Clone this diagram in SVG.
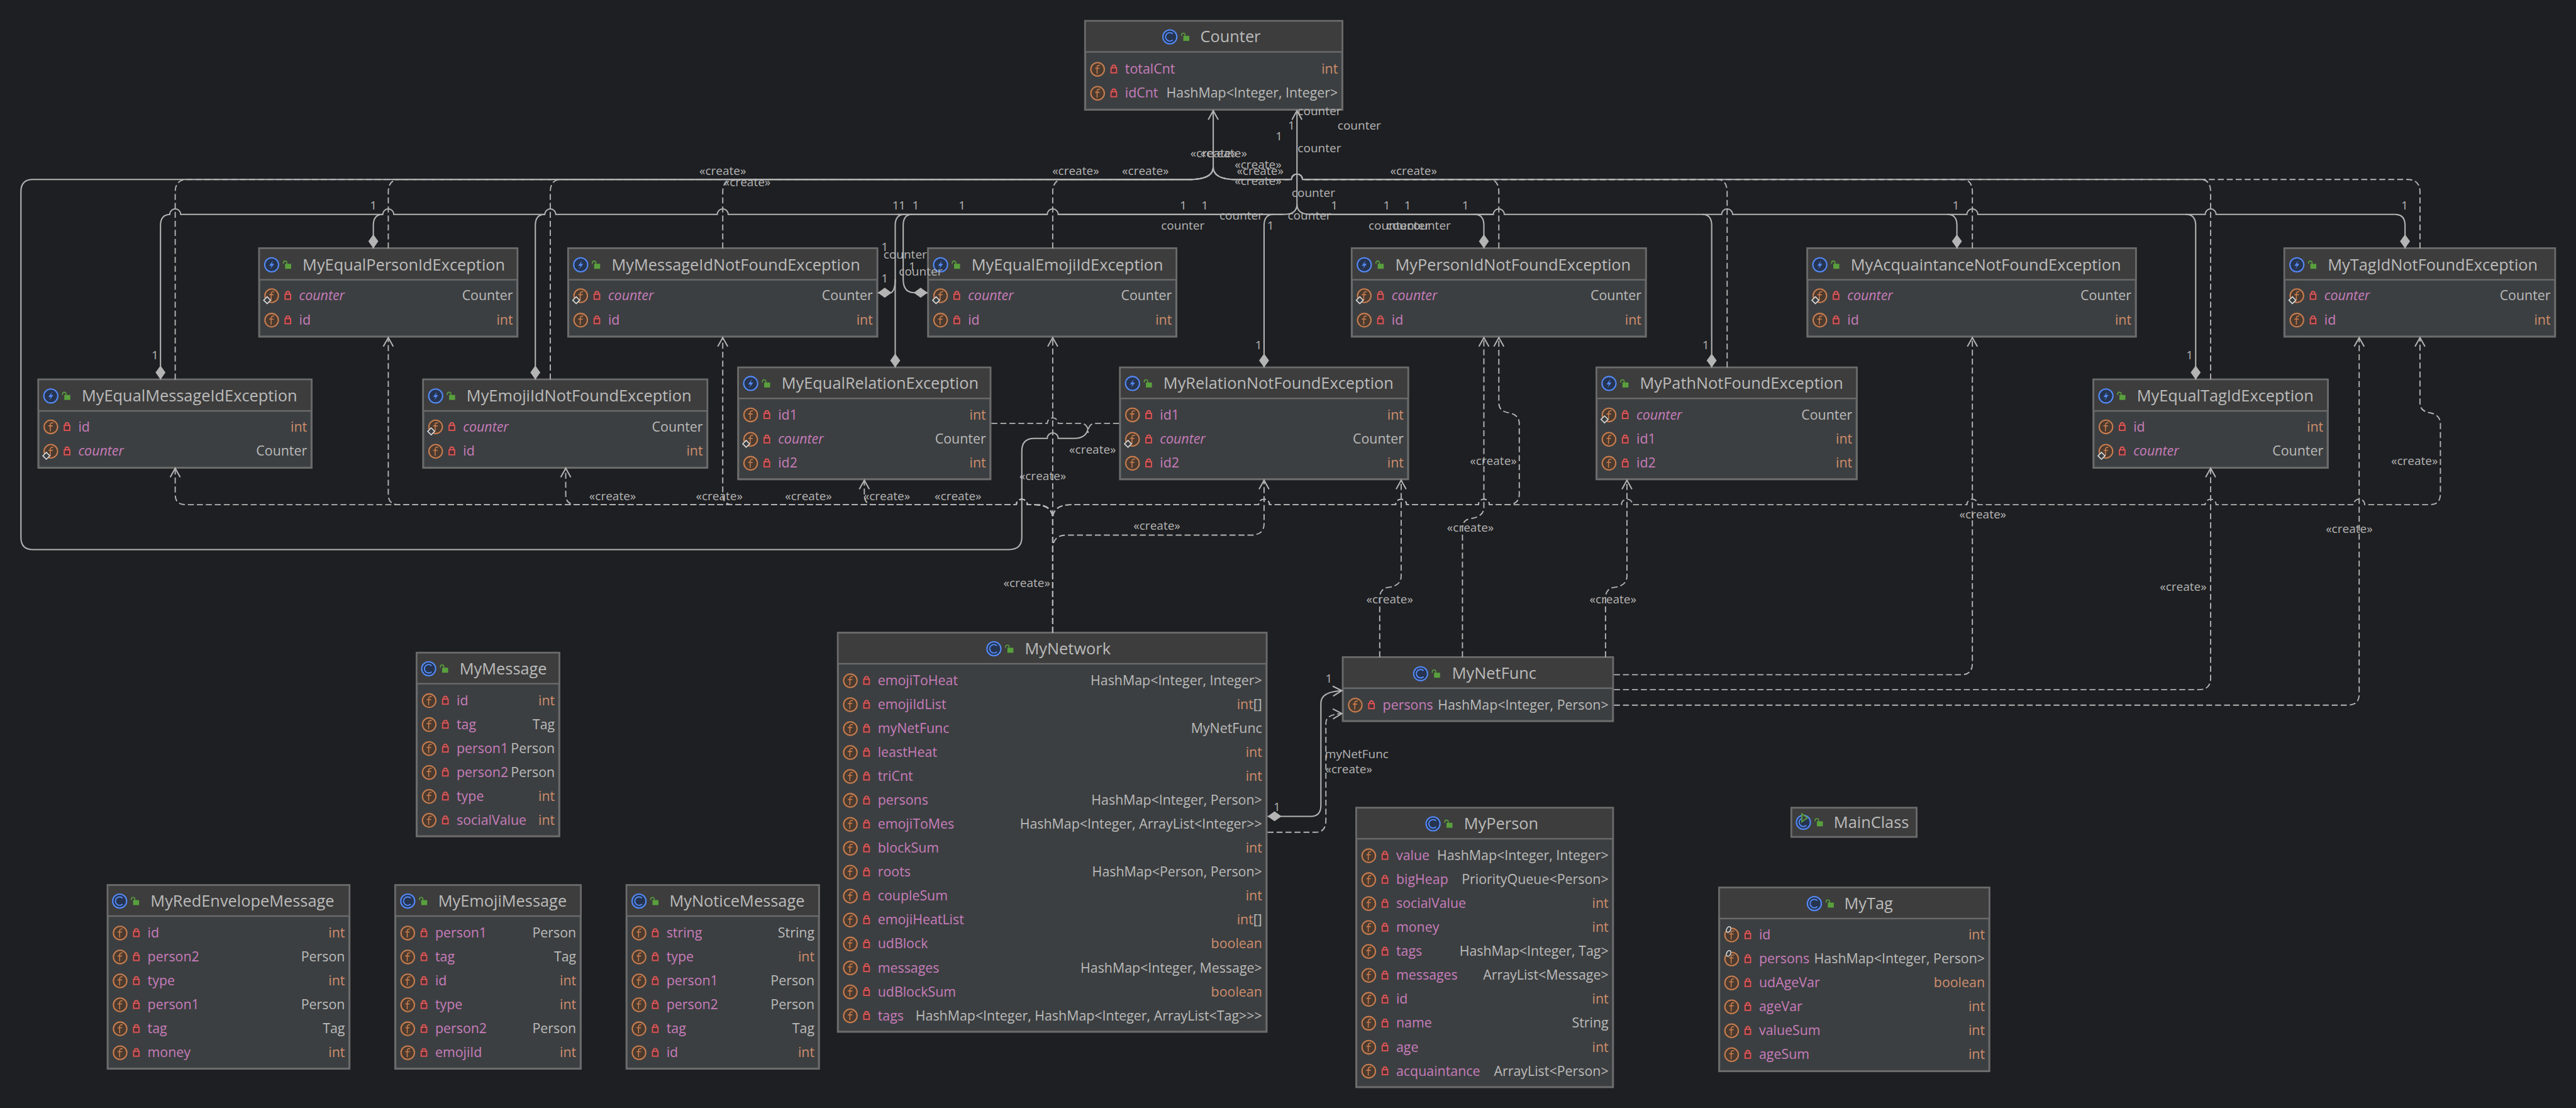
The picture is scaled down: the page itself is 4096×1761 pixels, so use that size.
<svg xmlns="http://www.w3.org/2000/svg" width="4096" height="1761" viewBox="0 0 4096 1761">
<style>
.b{fill:#3C3F41;stroke:#6B6B6B;stroke-width:4}
.h{fill:#3D3D3D;stroke:#6B6B6B;stroke-width:3}
text{font-family:"Open Sans","Noto Sans","Liberation Sans",sans-serif}
.t{font-size:32px;fill:#BBBBBB}
.n{font-size:27px;fill:#C77DBB}
.i{font-style:italic}
.y{font-size:27px;fill:#BBBBBB;text-anchor:end}
.p{font-size:27px;fill:#CF8E6D;text-anchor:end}
.l{font-size:24px;fill:#B4B4B4;text-anchor:middle}
.c{fill:none;stroke:#B4B4B4;stroke-width:2.6}
.d{fill:none;stroke:#B4B4B4;stroke-width:2.4;stroke-dasharray:12 6}
.a{marker-end:url(#arrow)}
.m{marker-start:url(#diamond)}
</style>
<defs>
<marker id="arrow" markerUnits="userSpaceOnUse" markerWidth="30" markerHeight="30" refX="0" refY="0" orient="auto" overflow="visible"><path d="M-18,-10 L0,0 L-18,10" fill="none" stroke="#B4B4B4" stroke-width="2.6"/></marker>
<marker id="diamond" markerUnits="userSpaceOnUse" markerWidth="30" markerHeight="30" refX="0" refY="0" orient="auto" overflow="visible"><path d="M0,0 L14,-10 L28,0 L14,10 Z" fill="#B4B4B4"/></marker>
<g id="gl"><rect x="27" y="-2" width="12" height="10" fill="#59A03D"/><path d="M23.5,-2 V-4 a3.5,3.5 0 0 1 7,0 V-1" fill="none" stroke="#59A03D" stroke-width="2"/></g>
<g id="ci"><circle r="14" fill="#26344F" stroke="#548AF7" stroke-width="2.6"/><path d="M6,-6 A8.5,8.5 0 1 0 6,6" fill="none" stroke="#548AF7" stroke-width="2.4"/><use href="#gl"/></g>
<g id="xi"><circle r="14" fill="#26344F" stroke="#548AF7" stroke-width="2.6"/><path d="M3,-9 L-5,2 H0 L-3,9 L5,-2 H0 Z" fill="#548AF7"/><use href="#gl"/></g>
<g id="mi"><use href="#ci"/><path d="M-3,-17 L8,-9 L-3,-1 Z" fill="#3D3D3D" stroke="#59A03D" stroke-width="2.4"/></g>
<g id="r"><circle cx="25" r="13.5" fill="#4A3A2F" stroke="#C77D4F" stroke-width="2.6"/><path d="M30,-8 Q24,-9 24,-4 V9 M20,-2 H29" fill="none" stroke="#C77D4F" stroke-width="2"/><rect x="52" y="-3" width="11" height="10" fill="#4A2F33" stroke="#E05555" stroke-width="2.4"/><path d="M54,-3 V-5 a3.5,3.5 0 0 1 7,0 V-3" fill="none" stroke="#E05555" stroke-width="2.4"/></g>
<g id="s"><use href="#r"/><path d="M16,2 L23,9 L16,16 L9,9 Z" fill="#3C3F41" stroke="#DDDDDD" stroke-width="2"/></g>
<g id="z"><use href="#r"/><ellipse cx="19" cy="-11" rx="4" ry="6" transform="rotate(25 19 -11)" fill="#3C3F41" stroke="#DDDDDD" stroke-width="2"/></g>
</defs>
<rect width="4096" height="1761" fill="#1E1F22"/>
<g transform="scale(0.79257)">
<g id="Counter" transform="translate(2177,42)"><rect class="b" width="516" height="178"/><rect class="h" width="516" height="62"/><use href="#ci" x="170" y="32"/><text class="t" x="231" y="43">Counter</text>
<use href="#r" y="97"/><text class="n" x="80" y="106">totalCnt</text><text class="p" x="507" y="106">int</text>
<use href="#r" y="145"/><text class="n" x="80" y="154">idCnt</text><text class="y" x="507" y="154">HashMap&lt;Integer, Integer&gt;</text></g>

<g id="MyEqualPersonIdException" transform="translate(520,498)"><rect class="b" width="518" height="177"/><rect class="h" width="518" height="63"/><use href="#xi" x="25" y="33"/><text class="t" x="87" y="44">MyEqualPersonIdException</text>
<use href="#s" y="95"/><text class="n i" x="80" y="104">counter</text><text class="y" x="509" y="104">Counter</text>
<use href="#r" y="144"/><text class="n" x="80" y="153">id</text><text class="p" x="509" y="153">int</text></g>

<g id="MyMessageIdNotFoundException" transform="translate(1140,498)"><rect class="b" width="620" height="177"/><rect class="h" width="620" height="63"/><use href="#xi" x="25" y="33"/><text class="t" x="87" y="44">MyMessageIdNotFoundException</text>
<use href="#s" y="95"/><text class="n i" x="80" y="104">counter</text><text class="y" x="611" y="104">Counter</text>
<use href="#r" y="144"/><text class="n" x="80" y="153">id</text><text class="p" x="611" y="153">int</text></g>

<g id="MyEqualEmojiIdException" transform="translate(1862,498)"><rect class="b" width="498" height="177"/><rect class="h" width="498" height="63"/><use href="#xi" x="25" y="33"/><text class="t" x="87" y="44">MyEqualEmojiIdException</text>
<use href="#s" y="95"/><text class="n i" x="80" y="104">counter</text><text class="y" x="489" y="104">Counter</text>
<use href="#r" y="144"/><text class="n" x="80" y="153">id</text><text class="p" x="489" y="153">int</text></g>

<g id="MyPersonIdNotFoundException" transform="translate(2712,498)"><rect class="b" width="590" height="177"/><rect class="h" width="590" height="63"/><use href="#xi" x="25" y="33"/><text class="t" x="87" y="44">MyPersonIdNotFoundException</text>
<use href="#s" y="95"/><text class="n i" x="80" y="104">counter</text><text class="y" x="581" y="104">Counter</text>
<use href="#r" y="144"/><text class="n" x="80" y="153">id</text><text class="p" x="581" y="153">int</text></g>

<g id="MyAcquaintanceNotFoundException" transform="translate(3626,498)"><rect class="b" width="659" height="177"/><rect class="h" width="659" height="63"/><use href="#xi" x="25" y="33"/><text class="t" x="87" y="44">MyAcquaintanceNotFoundException</text>
<use href="#s" y="95"/><text class="n i" x="80" y="104">counter</text><text class="y" x="650" y="104">Counter</text>
<use href="#r" y="144"/><text class="n" x="80" y="153">id</text><text class="p" x="650" y="153">int</text></g>

<g id="MyTagIdNotFoundException" transform="translate(4583,498)"><rect class="b" width="543" height="177"/><rect class="h" width="543" height="63"/><use href="#xi" x="25" y="33"/><text class="t" x="87" y="44">MyTagIdNotFoundException</text>
<use href="#s" y="95"/><text class="n i" x="80" y="104">counter</text><text class="y" x="534" y="104">Counter</text>
<use href="#r" y="144"/><text class="n" x="80" y="153">id</text><text class="p" x="534" y="153">int</text></g>

<g id="MyEqualMessageIdException" transform="translate(77,761)"><rect class="b" width="548" height="177"/><rect class="h" width="548" height="63"/><use href="#xi" x="25" y="33"/><text class="t" x="87" y="44">MyEqualMessageIdException</text>
<use href="#r" y="95"/><text class="n" x="80" y="104">id</text><text class="p" x="539" y="104">int</text>
<use href="#s" y="144"/><text class="n i" x="80" y="153">counter</text><text class="y" x="539" y="153">Counter</text></g>

<g id="MyEmojiIdNotFoundException" transform="translate(849,761)"><rect class="b" width="570" height="177"/><rect class="h" width="570" height="63"/><use href="#xi" x="25" y="33"/><text class="t" x="87" y="44">MyEmojiIdNotFoundException</text>
<use href="#s" y="95"/><text class="n i" x="80" y="104">counter</text><text class="y" x="561" y="104">Counter</text>
<use href="#r" y="144"/><text class="n" x="80" y="153">id</text><text class="p" x="561" y="153">int</text></g>

<g id="MyEqualTagIdException" transform="translate(4200,761)"><rect class="b" width="470" height="177"/><rect class="h" width="470" height="63"/><use href="#xi" x="25" y="33"/><text class="t" x="87" y="44">MyEqualTagIdException</text>
<use href="#r" y="95"/><text class="n" x="80" y="104">id</text><text class="p" x="461" y="104">int</text>
<use href="#s" y="144"/><text class="n i" x="80" y="153">counter</text><text class="y" x="461" y="153">Counter</text></g>

<g id="MyEqualRelationException" transform="translate(1481,737)"><rect class="b" width="506" height="224"/><rect class="h" width="506" height="62"/><use href="#xi" x="25" y="32"/><text class="t" x="87" y="43">MyEqualRelationException</text>
<use href="#r" y="95"/><text class="n" x="80" y="104">id1</text><text class="p" x="497" y="104">int</text>
<use href="#s" y="144"/><text class="n i" x="80" y="153">counter</text><text class="y" x="497" y="153">Counter</text>
<use href="#r" y="192"/><text class="n" x="80" y="201">id2</text><text class="p" x="497" y="201">int</text></g>

<g id="MyRelationNotFoundException" transform="translate(2247,737)"><rect class="b" width="578" height="224"/><rect class="h" width="578" height="62"/><use href="#xi" x="25" y="32"/><text class="t" x="87" y="43">MyRelationNotFoundException</text>
<use href="#r" y="95"/><text class="n" x="80" y="104">id1</text><text class="p" x="569" y="104">int</text>
<use href="#s" y="144"/><text class="n i" x="80" y="153">counter</text><text class="y" x="569" y="153">Counter</text>
<use href="#r" y="192"/><text class="n" x="80" y="201">id2</text><text class="p" x="569" y="201">int</text></g>

<g id="MyPathNotFoundException" transform="translate(3203,737)"><rect class="b" width="522" height="224"/><rect class="h" width="522" height="62"/><use href="#xi" x="25" y="32"/><text class="t" x="87" y="43">MyPathNotFoundException</text>
<use href="#s" y="95"/><text class="n i" x="80" y="104">counter</text><text class="y" x="513" y="104">Counter</text>
<use href="#r" y="144"/><text class="n" x="80" y="153">id1</text><text class="p" x="513" y="153">int</text>
<use href="#r" y="192"/><text class="n" x="80" y="201">id2</text><text class="p" x="513" y="201">int</text></g>

<g id="MyNetFunc" transform="translate(2694,1318)"><rect class="b" width="542" height="128"/><rect class="h" width="542" height="62"/><use href="#ci" x="156" y="33"/><text class="t" x="219" y="44">MyNetFunc</text>
<use href="#r" y="96"/><text class="n" x="80" y="105">persons</text><text class="y" x="533" y="105">HashMap&lt;Integer, Person&gt;</text></g>

<g id="MyNetwork" transform="translate(1681,1269)"><rect class="b" width="860" height="800"/><rect class="h" width="860" height="62"/><use href="#ci" x="313" y="32"/><text class="t" x="375" y="43">MyNetwork</text>
<use href="#r" y="96"/><text class="n" x="80" y="105">emojiToHeat</text><text class="y" x="851" y="105">HashMap&lt;Integer, Integer&gt;</text>
<use href="#r" y="144"/><text class="n" x="80" y="153">emojiIdList</text><text class="p" x="851" y="153">int<tspan fill="#BBBBBB">[]</tspan></text>
<use href="#r" y="192"/><text class="n" x="80" y="201">myNetFunc</text><text class="y" x="851" y="201">MyNetFunc</text>
<use href="#r" y="240"/><text class="n" x="80" y="249">leastHeat</text><text class="p" x="851" y="249">int</text>
<use href="#r" y="288"/><text class="n" x="80" y="297">triCnt</text><text class="p" x="851" y="297">int</text>
<use href="#r" y="336"/><text class="n" x="80" y="345">persons</text><text class="y" x="851" y="345">HashMap&lt;Integer, Person&gt;</text>
<use href="#r" y="384"/><text class="n" x="80" y="393">emojiToMes</text><text class="y" x="851" y="393">HashMap&lt;Integer, ArrayList&lt;Integer&gt;&gt;</text>
<use href="#r" y="432"/><text class="n" x="80" y="441">blockSum</text><text class="p" x="851" y="441">int</text>
<use href="#r" y="480"/><text class="n" x="80" y="489">roots</text><text class="y" x="851" y="489">HashMap&lt;Person, Person&gt;</text>
<use href="#r" y="528"/><text class="n" x="80" y="537">coupleSum</text><text class="p" x="851" y="537">int</text>
<use href="#r" y="576"/><text class="n" x="80" y="585">emojiHeatList</text><text class="p" x="851" y="585">int<tspan fill="#BBBBBB">[]</tspan></text>
<use href="#r" y="624"/><text class="n" x="80" y="633">udBlock</text><text class="p" x="851" y="633">boolean</text>
<use href="#r" y="672"/><text class="n" x="80" y="681">messages</text><text class="y" x="851" y="681">HashMap&lt;Integer, Message&gt;</text>
<use href="#r" y="720"/><text class="n" x="80" y="729">udBlockSum</text><text class="p" x="851" y="729">boolean</text>
<use href="#r" y="768"/><text class="n" x="80" y="777">tags</text><text class="y" x="851" y="777">HashMap&lt;Integer, HashMap&lt;Integer, ArrayList&lt;Tag&gt;&gt;&gt;</text></g>

<g id="MyMessage" transform="translate(836,1309)"><rect class="b" width="286" height="368"/><rect class="h" width="286" height="62"/><use href="#ci" x="24" y="32"/><text class="t" x="86" y="43">MyMessage</text>
<use href="#r" y="96"/><text class="n" x="80" y="105">id</text><text class="p" x="277" y="105">int</text>
<use href="#r" y="144"/><text class="n" x="80" y="153">tag</text><text class="y" x="277" y="153">Tag</text>
<use href="#r" y="192"/><text class="n" x="80" y="201">person1</text><text class="y" x="277" y="201">Person</text>
<use href="#r" y="240"/><text class="n" x="80" y="249">person2</text><text class="y" x="277" y="249">Person</text>
<use href="#r" y="288"/><text class="n" x="80" y="297">type</text><text class="p" x="277" y="297">int</text>
<use href="#r" y="336"/><text class="n" x="80" y="345">socialValue</text><text class="p" x="277" y="345">int</text></g>

<g id="MyRedEnvelopeMessage" transform="translate(216,1775)"><rect class="b" width="485" height="368"/><rect class="h" width="485" height="62"/><use href="#ci" x="24" y="32"/><text class="t" x="86" y="43">MyRedEnvelopeMessage</text>
<use href="#r" y="96"/><text class="n" x="80" y="105">id</text><text class="p" x="476" y="105">int</text>
<use href="#r" y="144"/><text class="n" x="80" y="153">person2</text><text class="y" x="476" y="153">Person</text>
<use href="#r" y="192"/><text class="n" x="80" y="201">type</text><text class="p" x="476" y="201">int</text>
<use href="#r" y="240"/><text class="n" x="80" y="249">person1</text><text class="y" x="476" y="249">Person</text>
<use href="#r" y="288"/><text class="n" x="80" y="297">tag</text><text class="y" x="476" y="297">Tag</text>
<use href="#r" y="336"/><text class="n" x="80" y="345">money</text><text class="p" x="476" y="345">int</text></g>

<g id="MyEmojiMessage" transform="translate(793,1775)"><rect class="b" width="372" height="368"/><rect class="h" width="372" height="62"/><use href="#ci" x="25" y="32"/><text class="t" x="86" y="43">MyEmojiMessage</text>
<use href="#r" y="96"/><text class="n" x="80" y="105">person1</text><text class="y" x="363" y="105">Person</text>
<use href="#r" y="144"/><text class="n" x="80" y="153">tag</text><text class="y" x="363" y="153">Tag</text>
<use href="#r" y="192"/><text class="n" x="80" y="201">id</text><text class="p" x="363" y="201">int</text>
<use href="#r" y="240"/><text class="n" x="80" y="249">type</text><text class="p" x="363" y="249">int</text>
<use href="#r" y="288"/><text class="n" x="80" y="297">person2</text><text class="y" x="363" y="297">Person</text>
<use href="#r" y="336"/><text class="n" x="80" y="345">emojiId</text><text class="p" x="363" y="345">int</text></g>

<g id="MyNoticeMessage" transform="translate(1257,1775)"><rect class="b" width="386" height="368"/><rect class="h" width="386" height="62"/><use href="#ci" x="25" y="32"/><text class="t" x="86" y="43">MyNoticeMessage</text>
<use href="#r" y="96"/><text class="n" x="80" y="105">string</text><text class="y" x="377" y="105">String</text>
<use href="#r" y="144"/><text class="n" x="80" y="153">type</text><text class="p" x="377" y="153">int</text>
<use href="#r" y="192"/><text class="n" x="80" y="201">person1</text><text class="y" x="377" y="201">Person</text>
<use href="#r" y="240"/><text class="n" x="80" y="249">person2</text><text class="y" x="377" y="249">Person</text>
<use href="#r" y="288"/><text class="n" x="80" y="297">tag</text><text class="y" x="377" y="297">Tag</text>
<use href="#r" y="336"/><text class="n" x="80" y="345">id</text><text class="p" x="377" y="345">int</text></g>

<g id="MyPerson" transform="translate(2721,1620)"><rect class="b" width="515" height="560"/><rect class="h" width="515" height="62"/><use href="#ci" x="154" y="32"/><text class="t" x="216" y="43">MyPerson</text>
<use href="#r" y="96"/><text class="n" x="80" y="105">value</text><text class="y" x="506" y="105">HashMap&lt;Integer, Integer&gt;</text>
<use href="#r" y="144"/><text class="n" x="80" y="153">bigHeap</text><text class="y" x="506" y="153">PriorityQueue&lt;Person&gt;</text>
<use href="#r" y="192"/><text class="n" x="80" y="201">socialValue</text><text class="p" x="506" y="201">int</text>
<use href="#r" y="240"/><text class="n" x="80" y="249">money</text><text class="p" x="506" y="249">int</text>
<use href="#r" y="288"/><text class="n" x="80" y="297">tags</text><text class="y" x="506" y="297">HashMap&lt;Integer, Tag&gt;</text>
<use href="#r" y="336"/><text class="n" x="80" y="345">messages</text><text class="y" x="506" y="345">ArrayList&lt;Message&gt;</text>
<use href="#r" y="384"/><text class="n" x="80" y="393">id</text><text class="p" x="506" y="393">int</text>
<use href="#r" y="432"/><text class="n" x="80" y="441">name</text><text class="y" x="506" y="441">String</text>
<use href="#r" y="480"/><text class="n" x="80" y="489">age</text><text class="p" x="506" y="489">int</text>
<use href="#r" y="528"/><text class="n" x="80" y="537">acquaintance</text><text class="y" x="506" y="537">ArrayList&lt;Person&gt;</text></g>

<g id="MainClass" transform="translate(3594,1620)"><rect class="b" width="251" height="58"/><rect class="h" width="251" height="58"/><use href="#mi" x="24" y="29"/><text class="t" x="85" y="40">MainClass</text></g>

<g id="MyTag" transform="translate(3449,1780)"><rect class="b" width="542" height="368"/><rect class="h" width="542" height="62"/><use href="#ci" x="191" y="32"/><text class="t" x="251" y="43">MyTag</text>
<use href="#z" y="95"/><text class="n" x="80" y="104">id</text><text class="p" x="533" y="104">int</text>
<use href="#z" y="143"/><text class="n" x="80" y="152">persons</text><text class="y" x="533" y="152">HashMap&lt;Integer, Person&gt;</text>
<use href="#r" y="191"/><text class="n" x="80" y="200">udAgeVar</text><text class="p" x="533" y="200">boolean</text>
<use href="#r" y="239"/><text class="n" x="80" y="248">ageVar</text><text class="p" x="533" y="248">int</text>
<use href="#r" y="287"/><text class="n" x="80" y="296">valueSum</text><text class="p" x="533" y="296">int</text>
<use href="#r" y="335"/><text class="n" x="80" y="344">ageSum</text><text class="p" x="533" y="344">int</text></g>

<g id="connectors">
<path class="d" d="M351.5,761 V385 Q351.5,362 372,360 H2385 Q2434,360 2434,335"/>
<path class="d" d="M779,498 V385 Q779,362 798,360 H2385 Q2434,360 2434,335"/>
<path class="d" d="M1104,761 V385 Q1104,362 1122,360 H2385 Q2434,360 2434,335"/>
<path class="d" d="M1450,498 V385 Q1450,362 1468,360 H2385 Q2434,360 2434,335"/>
<path class="d" d="M2112,498 V385 Q2112,362 2130,360 H2385 Q2434,360 2434,335"/>
<path class="d" d="M3007,498 V385 Q3007,362 2990,360 H2613 a11,11 0 0 0 -22,0 H2480 Q2434,360 2434,335"/>
<path class="d" d="M3465,737 V385 Q3465,362 3448,360 H2613 a11,11 0 0 0 -22,0 H2480 Q2434,360 2434,335"/>
<path class="d" d="M3957,498 V385 Q3957,362 3940,360 H2613 a11,11 0 0 0 -22,0 H2480 Q2434,360 2434,335"/>
<path class="d" d="M4435,761 V385 Q4435,362 4418,360 H2613 a11,11 0 0 0 -22,0 H2480 Q2434,360 2434,335"/>
<path class="d" d="M4855,498 V385 Q4855,360 4830,360 H2613 a11,11 0 0 0 -22,0 H2480 Q2434,360 2434,335"/>
<path class="c a" d="M2183,858 Q2180,879 2155,879 H2123 a11,11 0 0 0 -22,0 H2075 Q2050,879 2050,904 V1077 Q2050,1102 2025,1102 H66 Q42,1102 42,1078 V384 Q42,360 66,360 H2385 Q2434,360 2434,335 V222"/>
<path class="d" d="M1989,849 H2101 a11,11 0 0 1 22,0 H2168 Q2183,849 2183,868"/>
<path class="d" d="M2245,849 H2198 Q2183,849 2183,868"/>
<path class="c a" d="M340.5,430 a11,11 0 0 1 22,0 H768 a11,11 0 0 1 22,0 H1093 a11,11 0 0 1 22,0 H1439 a11,11 0 0 1 22,0 H2101 a11,11 0 0 1 22,0 H2575 Q2602,430 2602,410 V222"/>
<path class="c" d="M4805,430 H4446 a11,11 0 0 0 -22,0 H3968 a11,11 0 0 0 -22,0 H3476 a11,11 0 0 0 -22,0 H3018 a11,11 0 0 0 -22,0 H2630 Q2602,430 2602,410"/>
<path class="c" d="M1800,430 H2101 M2123,430 H2575 M2630,430 H2996"/>
<path class="c m" d="M322,761 V452 Q322,430 342,430"/>
<path class="c m" d="M749,498 V452 Q749,430 768,430"/>
<path class="c m" d="M1074,761 V452 Q1074,430 1093,430"/>
<path class="c m" d="M1796,737 V452 Q1796,430 1815,430"/>
<path class="c m" d="M1761,587 L1788,587 Q1796,582 1796,560"/>
<path class="c m" d="M1861,587 H1834 Q1812,587 1812,560 V452 Q1812,430 1830,430"/>
<path class="c m" d="M2536,737 V452 Q2536,430 2555,430"/>
<path class="c m" d="M2977,498 V452 Q2977,430 2958,430"/>
<path class="c m" d="M3434,737 V452 Q3434,430 3415,430"/>
<path class="c m" d="M3926,498 V452 Q3926,430 3907,430"/>
<path class="c m" d="M4405,761 V452 Q4405,430 4385,430"/>
<path class="c m" d="M4825,498 V452 Q4825,430 4805,430"/>
<path class="d a" d="M2112,1269 V677"/>
<path class="d a" d="M2112,1269 V1040 Q2112,1012 2075,1012 H2061 a11,11 0 0 0 -22,0 H372 Q351.500,1012 351.500,992 V939"/>
<path class="d a" d="M2112,1269 V1040 Q2112,1012 2075,1012 H2061 a11,11 0 0 0 -22,0 H800 Q779,1012 779,992 V677"/>
<path class="d a" d="M2112,1269 V1040 Q2112,1012 2075,1012 H2061 a11,11 0 0 0 -22,0 H1155 Q1135,1012 1135,992 V939"/>
<path class="d a" d="M2112,1269 V1040 Q2112,1012 2075,1012 H2061 a11,11 0 0 0 -22,0 H1470 Q1450,1012 1450,992 V677"/>
<path class="d a" d="M2112,1269 V1040 Q2112,1012 2075,1012 H2061 a11,11 0 0 0 -22,0 H1752 Q1734,1012 1734,992 V963"/>
<path class="d a" d="M2112,1269 V1100 Q2112,1073 2140,1073 H2510 Q2536,1073 2536,1050 V963"/>
<path class="d a" d="M2112,1269 V1040 Q2112,1012 2150,1012 H2525 a11,11 0 0 1 22,0 H2800 a11,11 0 0 1 22,0 H2966 a11,11 0 0 1 22,0 H3025 Q3048,1012 3048,990 V850 Q3048,832 3028,828 Q3007,825 3007,808 V677"/>
<path class="d a" d="M2112,1269 V1040 Q2112,1012 2150,1012 H2525 a11,11 0 0 1 22,0 H2800 a11,11 0 0 1 22,0 H2966 a11,11 0 0 1 22,0 H3253 a11,11 0 0 1 22,0 H3946 a11,11 0 0 1 22,0 H4424 a11,11 0 0 1 22,0 H4722 a11,11 0 0 1 22,0 H4875 Q4896,1012 4896,990 V850 Q4896,832 4876,828 Q4855,825 4855,808 V677"/>
<path class="d a" d="M2768,1318 V1200 Q2768,1180 2785,1178 Q2811,1175 2811,1155 V963"/>
<path class="d a" d="M2934,1318 V1060 Q2934,1042 2950,1040 Q2977,1036 2977,1018 V677"/>
<path class="d a" d="M3221,1318 V1200 Q3221,1180 3238,1178 Q3264,1175 3264,1155 V963"/>
<path class="d a" d="M3238,1353 H3935 Q3957,1353 3957,1330 V677"/>
<path class="d a" d="M3238,1383 H4412 Q4435,1383 4435,1360 V939"/>
<path class="d a" d="M3238,1414 H4710 Q4733,1414 4733,1392 V677"/>
<path class="c m a" d="M2543,1637 H2630 Q2650,1637 2650,1615 V1410 Q2650,1387 2692,1385"/>
<path class="d a" d="M2543,1669 H2640 Q2660,1669 2660,1645 V1450 Q2660,1432 2692,1431"/>
<g>
<text class="l" x="749" y="420">1</text><text class="l" x="311" y="720">1</text>
<text class="l" x="1797" y="420">1</text><text class="l" x="1810" y="420">1</text><text class="l" x="1837" y="420">1</text><text class="l" x="1930" y="420">1</text>
<text class="l" x="2374" y="420">1</text><text class="l" x="2417" y="420">1</text><text class="l" x="2677" y="420">1</text><text class="l" x="2782" y="420">1</text><text class="l" x="2824" y="420">1</text><text class="l" x="2940" y="420">1</text>
<text class="l" x="3924" y="420">1</text><text class="l" x="4824" y="420">1</text><text class="l" x="4393" y="720">1</text>
<text class="l" x="1775" y="504">1</text><text class="l" x="1830" y="542">1</text><text class="l" x="1775" y="566">1</text>
<text class="l" x="2549" y="460">1</text><text class="l" x="2525" y="700">1</text><text class="l" x="3422" y="700">1</text>
<text class="l" x="2591" y="260">1</text><text class="l" x="2566" y="281">1</text>
<text class="l" x="2666" y="1369">1</text><text class="l" x="2562" y="1626">1</text>
<text class="l" x="2647" y="231">counter</text><text class="l" x="2727" y="260">counter</text><text class="l" x="2647" y="305">counter</text><text class="l" x="2635" y="395">counter</text>
<text class="l" x="2490" y="440">counter</text><text class="l" x="2373" y="460">counter</text><text class="l" x="2627" y="440">counter</text>
<text class="l" x="2789" y="460">counter</text><text class="l" x="2825" y="460">counter</text><text class="l" x="2867" y="460">counter</text>
<text class="l" x="1816" y="519">counter</text><text class="l" x="1847" y="553">counter</text>
<text class="l" x="1450" y="351">«create»</text><text class="l" x="1499" y="373">«create»</text><text class="l" x="2158" y="351">«create»</text><text class="l" x="2298" y="351">«create»</text>
<text class="l" x="2435" y="316">«create»</text><text class="l" x="2455" y="316">«create»</text><text class="l" x="2524" y="338">«create»</text><text class="l" x="2528" y="351">«create»</text><text class="l" x="2524" y="371">«create»</text><text class="l" x="2836" y="351">«create»</text>
<text class="l" x="1229" y="1003">«create»</text><text class="l" x="1443" y="1003">«create»</text><text class="l" x="1622" y="1003">«create»</text><text class="l" x="1779" y="1003">«create»</text><text class="l" x="1922" y="1003">«create»</text>
<text class="l" x="2192" y="910">«create»</text><text class="l" x="2092" y="963">«create»</text><text class="l" x="2321" y="1062">«create»</text><text class="l" x="2060" y="1177">«create»</text>
<text class="l" x="2996" y="932">«create»</text><text class="l" x="2950" y="1066">«create»</text><text class="l" x="2788" y="1210">«create»</text><text class="l" x="3236" y="1210">«create»</text>
<text class="l" x="4844" y="932">«create»</text><text class="l" x="3978" y="1040">«create»</text><text class="l" x="4713" y="1069">«create»</text><text class="l" x="4380" y="1185">«create»</text>
<text class="l" x="2722" y="1521">myNetFunc</text><text class="l" x="2706" y="1551">«create»</text>
</g>
</g>
</g>
</svg>
